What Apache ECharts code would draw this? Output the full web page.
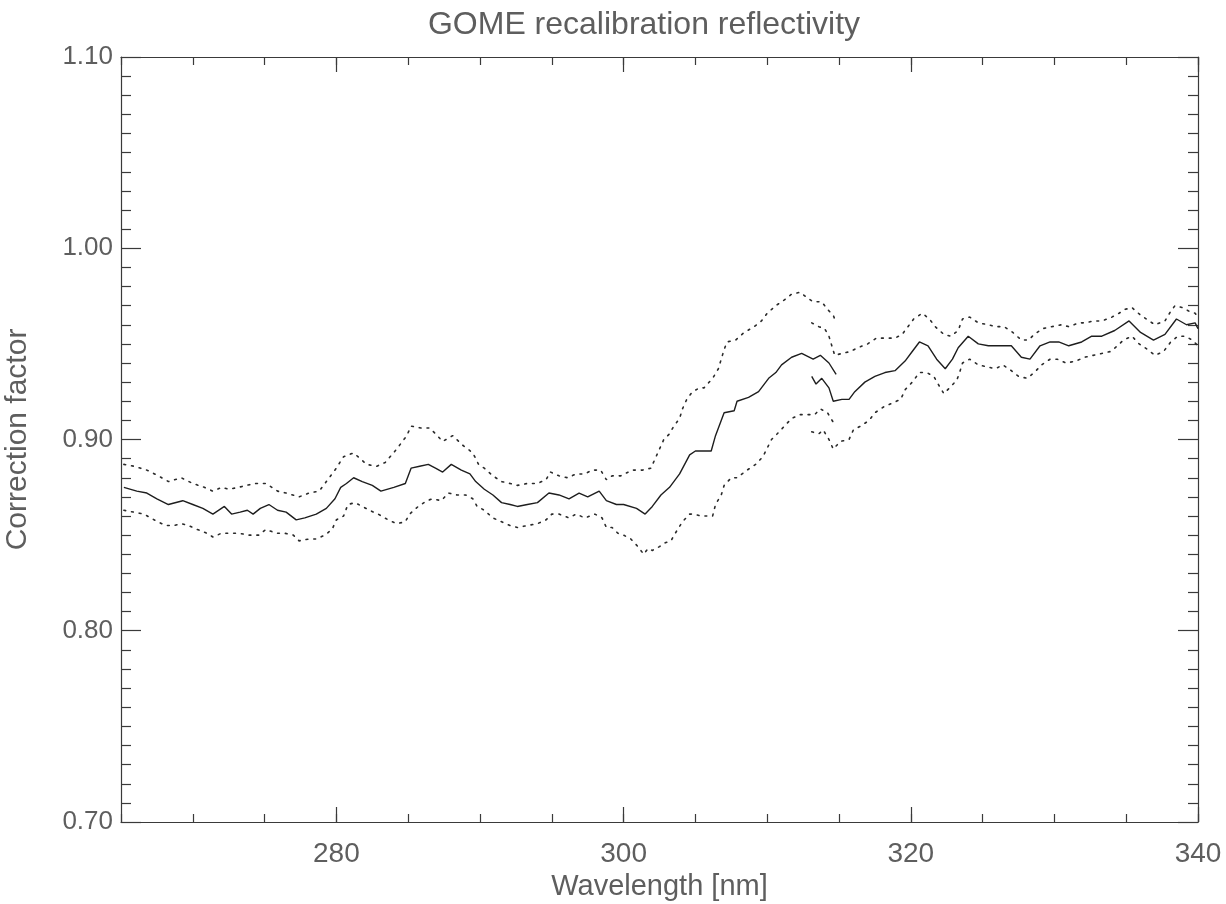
<!DOCTYPE html>
<html>
<head>
<meta charset="utf-8">
<script src="https://cdn.jsdelivr.net/npm/echarts@6/dist/echarts.min.js"></script>
<style>
html,body{margin:0;padding:0;background:#fff;}
#chart{width:1226px;height:904px;}
</style>
</head>
<body>
<div id="chart"></div>
<script>
// Channel 1 mean correction factor
var meanCh1Wl = [265.2,266.1,266.8,267.5,268.3,269.3,270.0,270.7,271.4,272.2,272.7,273.3,273.8,274.2,274.7,275.3,275.9,276.5,277.2,277.8,278.6,279.3,279.9,280.3,280.7,281.2,281.8,282.5,283.1,284.0,284.8,285.2,285.8,286.4,286.9,287.4,288.0,288.7,289.3,289.7,290.3,290.9,291.5,292.1,292.6,293.3,294.0,294.8,295.5,296.2,296.9,297.5,298.3,298.8,299.5,300.0,300.9,301.5,302.0,302.6,303.2,303.9,304.6,305.0,305.5,306.1,306.4,307.0,307.7,307.9,308.7,309.4,310.1,310.6,311.0,311.7,312.4,313.2,313.7,314.3,314.8];
var meanCh1Val = [0.875,0.873,0.872,0.869,0.866,0.868,0.866,0.864,0.861,0.865,0.861,0.862,0.863,0.861,0.864,0.866,0.863,0.862,0.858,0.859,0.861,0.864,0.869,0.875,0.877,0.880,0.878,0.876,0.873,0.875,0.877,0.885,0.886,0.887,0.885,0.883,0.887,0.884,0.882,0.878,0.874,0.871,0.867,0.866,0.865,0.866,0.867,0.872,0.871,0.869,0.872,0.870,0.873,0.868,0.866,0.866,0.864,0.861,0.865,0.871,0.875,0.882,0.892,0.894,0.894,0.894,0.902,0.914,0.915,0.920,0.922,0.925,0.932,0.935,0.939,0.943,0.945,0.942,0.944,0.940,0.934];
// Channel 2 mean correction factor
var meanCh2Wl = [313.1,313.4,313.8,314.3,314.6,315.2,315.7,316.1,316.8,317.5,318.2,318.9,319.6,320.1,320.6,321.2,321.8,322.4,322.9,323.3,324.0,324.7,325.4,326.3,327.0,327.7,328.3,329.0,329.7,330.3,331.0,331.9,332.6,333.3,334.2,335.2,336.0,336.9,337.7,338.5,339.2,339.8,340.0];
var meanCh2Val = [0.933,0.929,0.932,0.927,0.920,0.921,0.921,0.925,0.930,0.933,0.935,0.936,0.941,0.946,0.951,0.949,0.942,0.937,0.942,0.948,0.954,0.950,0.949,0.949,0.949,0.943,0.942,0.949,0.951,0.951,0.949,0.951,0.954,0.954,0.957,0.962,0.956,0.952,0.955,0.963,0.960,0.961,0.958];
// Upper bound, channel 1
var upperCh1Wl = [265.2,265.9,266.8,267.6,268.3,269.2,270.0,270.8,271.4,272.0,272.5,273.2,273.7,274.4,275.1,275.9,276.5,277.4,278.1,278.8,279.3,279.9,280.5,281.2,282.1,282.8,283.4,284.2,284.9,285.2,285.9,286.5,286.9,287.4,288.1,288.8,289.5,289.9,290.3,290.9,291.5,292.1,292.6,293.3,294.0,294.6,294.9,295.5,296.1,296.7,297.3,297.8,298.4,298.8,299.2,299.8,300.6,301.3,301.9,302.2,302.5,302.8,303.2,303.5,303.9,304.1,304.4,304.8,305.3,305.6,306.2,306.6,307.0,307.2,307.8,308.4,309.1,309.6,310.0,310.6,311.2,311.7,312.3,312.8,313.2,313.8,314.2,314.6,314.8];
var upperCh1Val = [0.887,0.886,0.884,0.881,0.878,0.880,0.877,0.875,0.873,0.875,0.874,0.875,0.876,0.877,0.877,0.873,0.872,0.870,0.872,0.873,0.878,0.884,0.891,0.893,0.887,0.886,0.888,0.895,0.902,0.907,0.906,0.906,0.903,0.899,0.902,0.897,0.893,0.887,0.885,0.881,0.878,0.877,0.876,0.877,0.877,0.879,0.883,0.881,0.880,0.882,0.882,0.884,0.884,0.879,0.881,0.881,0.884,0.884,0.885,0.890,0.895,0.900,0.903,0.907,0.911,0.916,0.921,0.925,0.927,0.927,0.932,0.937,0.947,0.951,0.952,0.956,0.959,0.962,0.966,0.970,0.973,0.976,0.977,0.974,0.972,0.972,0.968,0.965,0.961];
// Upper bound, channel 2
var upperCh2Wl = [313.1,313.6,314.0,314.3,314.5,314.7,315.2,315.8,316.3,317.0,317.6,318.2,318.9,319.4,319.8,320.2,320.8,321.3,321.7,322.3,322.8,323.3,323.6,324.1,324.7,325.4,325.9,326.5,327.1,327.7,328.2,328.6,329.2,329.8,330.5,331.0,331.7,332.2,332.7,333.3,334.0,334.5,334.9,335.4,336.0,336.6,337.0,337.7,338.1,338.4,338.9,339.4,339.8,340.0];
var upperCh2Val = [0.961,0.959,0.958,0.954,0.949,0.944,0.945,0.946,0.948,0.950,0.953,0.953,0.953,0.955,0.959,0.963,0.966,0.963,0.959,0.955,0.954,0.957,0.963,0.964,0.961,0.960,0.959,0.959,0.956,0.952,0.952,0.955,0.958,0.959,0.960,0.959,0.961,0.961,0.962,0.962,0.964,0.966,0.968,0.969,0.965,0.962,0.960,0.962,0.967,0.970,0.969,0.967,0.966,0.964];
// Lower bound, channel 1
var lowerCh1Wl = [265.2,265.9,266.6,267.3,268.1,268.7,269.2,269.7,270.3,271.0,271.4,272.0,272.5,273.2,273.9,274.6,275.1,275.8,276.4,277.0,277.4,278.1,278.6,279.2,279.7,280.0,280.5,280.8,281.3,281.8,282.3,282.9,283.6,284.2,284.8,285.1,285.7,286.3,286.7,287.3,287.8,288.4,289.0,289.5,289.8,290.3,290.9,291.5,292.1,292.6,293.3,294.0,294.6,295.0,295.5,296.2,296.7,297.3,298.0,298.5,298.8,299.2,299.6,300.0,300.5,301.0,301.4,301.7,302.0,302.5,302.9,303.3,303.6,304.1,304.6,304.9,305.4,306.2,306.4,306.8,307.0,307.5,307.9,308.6,309.2,309.7,310.3,310.7,311.2,311.7,312.3,312.9,313.3,313.7,314.2,314.6];
var lowerCh1Val = [0.863,0.862,0.861,0.858,0.855,0.855,0.856,0.855,0.853,0.851,0.849,0.851,0.851,0.851,0.850,0.850,0.853,0.851,0.851,0.850,0.847,0.848,0.848,0.850,0.853,0.858,0.860,0.866,0.867,0.865,0.863,0.861,0.858,0.856,0.857,0.861,0.865,0.868,0.869,0.868,0.872,0.871,0.871,0.869,0.865,0.863,0.859,0.857,0.855,0.854,0.855,0.856,0.858,0.861,0.861,0.859,0.861,0.859,0.861,0.859,0.854,0.854,0.851,0.850,0.848,0.844,0.840,0.843,0.842,0.844,0.846,0.847,0.851,0.857,0.861,0.861,0.860,0.860,0.866,0.871,0.876,0.880,0.880,0.884,0.887,0.891,0.900,0.903,0.907,0.911,0.913,0.913,0.913,0.916,0.914,0.909];
// Lower bound, channel 2
var lowerCh2Wl = [313.1,313.6,313.9,314.3,314.6,315.1,315.7,316.0,316.5,317.1,317.5,318.1,318.7,319.3,319.6,320.1,320.6,321.1,321.6,321.9,322.3,322.7,323.2,323.4,323.6,324.1,324.7,325.3,325.9,326.4,327.0,327.5,328.1,328.6,329.1,329.7,330.2,330.8,331.5,332.1,332.7,333.3,333.9,334.4,334.8,335.4,335.9,336.5,337.0,337.6,338.1,338.6,339.1,339.6,340.0];
var lowerCh2Val = [0.904,0.903,0.905,0.900,0.895,0.899,0.900,0.905,0.907,0.910,0.914,0.917,0.919,0.921,0.926,0.930,0.935,0.935,0.933,0.929,0.924,0.927,0.931,0.935,0.940,0.942,0.939,0.938,0.937,0.939,0.936,0.933,0.932,0.935,0.939,0.942,0.942,0.940,0.941,0.943,0.944,0.945,0.946,0.949,0.952,0.954,0.950,0.947,0.944,0.946,0.951,0.954,0.954,0.952,0.949];

var xMajorTicks = [280, 300, 320, 340];
var titleText = 'GOME recalibration reflectivity';
var xName = 'Wavelength [nm]';
var yName = 'Correction factor';

function zip(xs, ys) { return xs.map(function (x, i) { return [x, ys[i]]; }); }

var FONT = '"Liberation Sans", Arial, sans-serif';
var TXT = '#5e5e5e';
var AX = '#3a3a3a';

var chart = echarts.init(document.getElementById('chart'), null, { renderer: 'canvas' });

function xAxisMinor(pos) {
  return {
    type: 'value', position: pos, min: 265, max: 340, interval: 5,
    axisLine: { show: true, onZero: false, lineStyle: { color: AX, width: 1.2 } },
    axisTick: { show: true, inside: true, length: 8, lineStyle: { color: AX, width: 1.2 } },
    axisLabel: { show: false },
    splitLine: { show: false }
  };
}
function xAxisMajor(pos, showLabel) {
  var ax = {
    type: 'value', position: pos, min: 265, max: 340, interval: 5,
    axisLine: { show: false, onZero: false },
    axisTick: { show: true, inside: true, length: 15, customValues: xMajorTicks, lineStyle: { color: AX, width: 1.2 } },
    axisLabel: { show: showLabel, customValues: xMajorTicks, margin: 18, color: TXT, fontFamily: FONT, fontSize: 28 },
    splitLine: { show: false }
  };
  if (showLabel) {
    ax.name = xName;
    ax.nameLocation = 'middle';
    ax.nameGap = 50;
    ax.nameTextStyle = { color: TXT, fontFamily: FONT, fontSize: 29 };
  }
  return ax;
}
function yAxis(pos, showLabel) {
  var ax = {
    type: 'value', position: pos, min: 0.7, max: 1.1, interval: 0.1,
    axisLine: { show: true, onZero: false, lineStyle: { color: AX, width: 1.2 } },
    axisTick: { show: true, inside: true, length: 20, lineStyle: { color: AX, width: 1.2 } },
    minorTick: { show: true, splitNumber: 10, length: 10, lineStyle: { color: AX, width: 1.2 } },
    axisLabel: { show: showLabel, margin: 8, color: TXT, fontFamily: FONT, fontSize: 26,
      formatter: function (v) { return v.toFixed(2); } },
    splitLine: { show: false },
    minorSplitLine: { show: false }
  };
  if (showLabel) {
    ax.name = yName;
    ax.nameLocation = 'middle';
    ax.nameGap = 88;
    ax.nameTextStyle = { color: TXT, fontFamily: FONT, fontSize: 30 };
  }
  return ax;
}

function lineSeries(name, xs, ys, dotted) {
  return {
    name: name, type: 'line', xAxisIndex: 0, yAxisIndex: 0,
    data: zip(xs, ys), showSymbol: false, symbol: 'none', silent: true, animation: false,
    lineStyle: dotted
      ? { color: '#2a2a2a', width: 1.6, type: [1.8, 6], cap: 'round' }
      : { color: '#1e1e1e', width: 1.4, type: 'solid' }
  };
}

chart.setOption({
  backgroundColor: '#ffffff',
  animation: false,
  title: {
    text: titleText, left: 639, top: 4, textAlign: 'center',
    textStyle: { color: TXT, fontFamily: FONT, fontSize: 32, fontWeight: 'normal' }
  },
  grid: { left: 121, right: 28, top: 57, bottom: 82, containLabel: false, outerBoundsMode: 'none' },
  xAxis: [xAxisMinor('bottom'), xAxisMajor('bottom', true), xAxisMinor('top'), xAxisMajor('top', false)],
  yAxis: [yAxis('left', true), yAxis('right', false)],
  series: [
    lineSeries('mean ch1', meanCh1Wl, meanCh1Val, false),
    lineSeries('mean ch2', meanCh2Wl, meanCh2Val, false),
    lineSeries('upper ch1', upperCh1Wl, upperCh1Val, true),
    lineSeries('upper ch2', upperCh2Wl, upperCh2Val, true),
    lineSeries('lower ch1', lowerCh1Wl, lowerCh1Val, true),
    lineSeries('lower ch2', lowerCh2Wl, lowerCh2Val, true)
  ]
});
</script>
</body>
</html>
